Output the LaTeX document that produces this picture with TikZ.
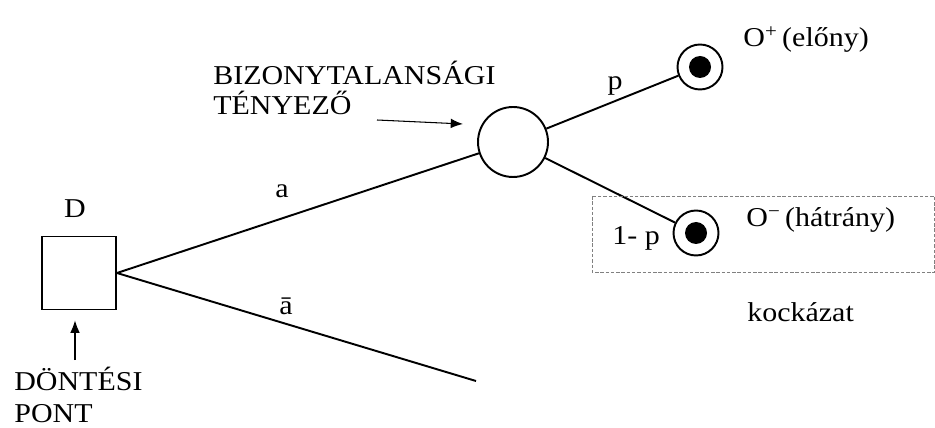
\documentclass[tikz,border=0pt]{standalone}
\usepackage{fontspec}
\setmainfont{Liberation Serif}[FakeStretch=1.1]
\usetikzlibrary{arrows.meta}
\tikzset{
    every node/.style={align=left,inner sep=0pt,font=\fontsize{15.5}{17}\selectfont},
    decision/.style={draw,rectangle,line width=1.1pt,minimum width=1.48cm,minimum height=1.46cm},
    chance/.style={draw,circle,line width=1.1pt,minimum size=1.4cm},
    outcome/.style={draw,circle,line width=1.1pt,minimum size=0.9cm},
    core/.style={fill,circle,minimum size=0.44cm},
    branch/.style={line width=1.1pt},
    pointer/.style={-{Latex[length=7pt,width=5.5pt]},line width=0.6pt},
}

\begin{document}
\begin{tikzpicture}[x=0.02cm,y=-0.02cm]
                \useasboundingbox (0,0) rectangle (935,428);

                \node[decision] (D) at (79,273) {};
                \node[anchor=base] (Dlabel) at (75,218) {D};
                \node[anchor=base west] (dontesi) at (14,390) {DÖNTÉSI};
                \node[anchor=base west] (pont) at (14,422) {PONT};
                \coordinate (foot) at (75,360);

                \node[chance] (chance) at (513,142) {};
                \node[anchor=base west] (bizony) at (213,85) {BIZONYTALANSÁGI};
                \node[anchor=base west] (tenyezo) at (213,115) {TÉNYEZŐ};
                \coordinate (tail) at (377,120);

                \node[outcome] (plus) at (700,67) {};
                \node[core] at (plus.center) {};
                \node[outcome] (minus) at (696,233) {};
                \node[core] at (minus.center) {};
                \coordinate (end) at (476,381);

                \node[anchor=base west] (elony) at (743,47) {O\textsuperscript{+}\,(előny)};
                \node[anchor=base west] (hatrany) at (746,227) {O\textsuperscript{−}\,(hátrány)};
                \node[anchor=base west] (risk) at (747,322) {kockázat};

                \node[anchor=base] (a) at (282,198) {a};
                \node[anchor=base] (abar) at (286,315) {ā};
                \node[anchor=base] (p) at (615,90) {p};
                \node[anchor=base west] (q) at (612,245) {1- p};

                \draw[branch] (D.east) -- (chance);
                \draw[branch] (D.east) -- (end);
                \draw[branch] (chance) -- (plus);
                \draw[branch] (chance) -- (minus);

                \draw[pointer] (tail) -- (463,124);
                \draw[pointer,shorten >=0.2cm] (foot) -- (foot |- D.south);

                \draw[gray,dash pattern=on 2pt off 1pt] (592,196) rectangle (934.5,272);
            \end{tikzpicture}
\end{document}
